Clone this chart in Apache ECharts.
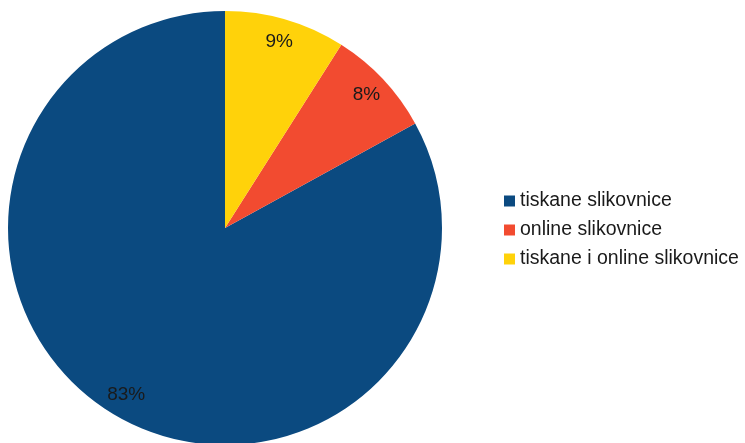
<!DOCTYPE html>
<html>
<head>
<meta charset="utf-8">
<script src="https://cdn.jsdelivr.net/npm/echarts@6/dist/echarts.min.js"></script>
<style>
  html, body { margin: 0; padding: 0; background: #fff; }
  #chart { width: 745px; height: 443px; }
</style>
</head>
<body>
<div id="chart"></div>
<script>
    // podaci
    const categories = ['tiskane slikovnice', 'online slikovnice', 'tiskane i online slikovnice'];
    const values = [83, 8, 9];
    const colors = ['#0b4a80', '#f24b30', '#ffd20a'];

    const pieData = categories.map((name, i) => {
        return { name: name, value: values[i], itemStyle: { color: colors[i] } };
    });

    let chart = echarts.init(document.getElementById('chart'));
    chart.setOption({
        animation: false,
        legend: {
            orient: 'vertical',
            left: 499,
            top: 186,
            itemWidth: 11,
            itemHeight: 11,
            itemGap: 9,
            icon: 'rect',
            data: categories,
            textStyle: {
                fontFamily: 'Liberation Sans',
                fontSize: 19.5,
                lineHeight: 19,
                color: '#1a1a1a'
            }
        },
        series: [
            {
                type: 'pie',
                center: [225, 228],
                radius: [0, 217],
                startAngle: 90,
                clockwise: false,
                label: { show: false },
                labelLine: { show: false },
                emphasis: { disabled: true },
                data: pieData
            },
            {
                // samo za oznake postotaka blizu ruba
                type: 'pie',
                center: [225, 228],
                radius: [166, 216],
                startAngle: 90,
                clockwise: false,
                silent: true,
                legendHoverLink: false,
                itemStyle: { color: 'rgba(0,0,0,0)' },
                label: {
                    show: true,
                    position: 'inside',
                    formatter: '{c}%',
                    fontFamily: 'Liberation Sans',
                    fontSize: 19,
                    color: '#1a1a1a'
                },
                labelLine: { show: false },
                data: categories.map((name, i) => ({ name: name + ' ', value: values[i] }))
            }
        ]
    });
</script>
</body>
</html>
